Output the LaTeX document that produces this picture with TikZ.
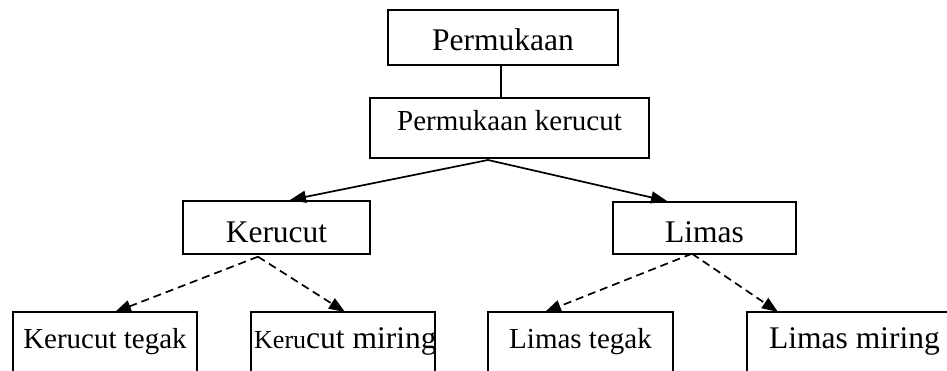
\documentclass[tikz,border=0pt]{standalone}
\usepackage{fontspec}
\setmainfont{Liberation Serif}
\usetikzlibrary{arrows.meta,calc}
\begin{document}
\begin{tikzpicture}[x=1pt,y=-1pt,
  box/.style={draw, line width=1.7pt, anchor=north, inner sep=0pt, align=center},
  big/.style={font=\fontsize{31.5}{36}\selectfont},
  mid/.style={font=\fontsize{29}{34}\selectfont},
  leaf/.style={box, text height=37pt, text depth=60pt},
  tip/.style={-{Triangle[length=16pt,width=12pt]}},
  solidarrow/.style={line width=1.7pt, tip},
  dasharrow/.style={line width=1.7pt, dash pattern=on 8pt off 5pt, tip}]
\useasboundingbox (0,0) rectangle (947,371);
\clip (0,0) rectangle (947,371);
% upper boxes
\node[box,big,minimum width=230pt,text height=41pt,text depth=14pt] (p) at (503,9) {Permukaan};
\node[box,mid,minimum width=279pt,text height=33pt,text depth=27pt] (pk) at (509.5,97) {Permukaan kerucut};
\node[box,big,minimum width=187pt,text height=42pt,text depth=11pt] (k) at (276.5,200) {Kerucut};
\node[box,big,minimum width=183pt,text height=41pt,text depth=11pt] (l) at (704.5,201) {Limas};
% leaves
\node[leaf,mid,minimum width=184pt] (kt) at (105,311) {Kerucut tegak};
\node[leaf,big,minimum width=184pt] (km) at (343,311) {};
\begin{scope}
  \clip (km.north west) rectangle (km.south east);
  \node[anchor=base west,inner sep=0pt] (kmt) at (254,348) {{\fontsize{26}{30}\selectfont Keru}{\fontsize{31.5}{36}\selectfont cut miring}};
\end{scope}
\node[leaf,mid,minimum width=185pt] (lt) at (580.5,311) {Limas tegak};
\node[leaf,big,minimum width=226pt] (lm) at (860,311) {};
\node[anchor=base west,inner sep=0pt,big] (lmt) at (769,348) {Limas miring};
% connectors
\coordinate (v) at ($(p.south)+(-2,0)$);
\draw[line width=1.7pt] (v) -- (v |- pk.north);
\coordinate (a1) at (488,160);
\draw[solidarrow] (a1) -- ($(k.north)+(13.5,0)$);
\draw[solidarrow] (a1) -- ($(l.north)+(-37.5,0)$);
\draw[dasharrow] ($(k.south)+(-18.5,2)$) -- ($(kt.north)+(10,1)$);
\draw[dasharrow] ($(k.south)+(-18.5,2)$) -- ($(km.north)+(2,1)$);
\draw[dasharrow] ($(l.south)+(-12.5,-1)$) -- ($(lt.north)+(-35.5,1)$);
\draw[dasharrow] ($(l.south)+(-12.5,-1)$) -- ($(lm.north)+(-82,1)$);
\end{tikzpicture}
\end{document}
